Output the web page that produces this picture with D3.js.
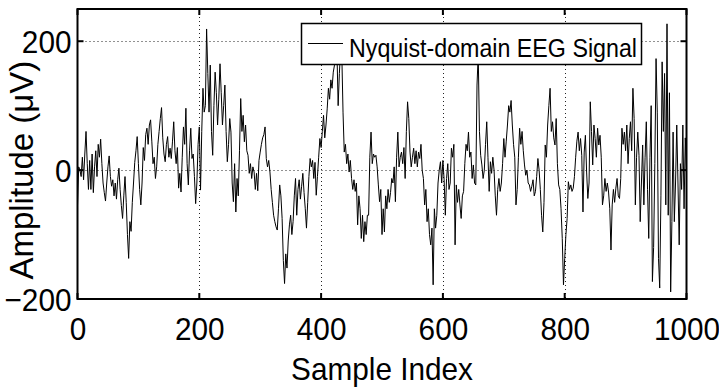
<!DOCTYPE html>
<html>
<head>
<meta charset="utf-8">
<script src="https://cdn.jsdelivr.net/npm/d3@7"></script>
<style>
  body { margin: 0; background: #fff; }
  text { font-family: "Liberation Sans", Arial, Helvetica, sans-serif; fill: #000; }
</style>
</head>
<body>
<svg id="chart" width="719" height="389"></svg>
<script>
// sample index step 2, 0..1000
const sampleIndex = d3.range(0, 1001, 2);

// amplitude in microvolts
const amplitude = [
  -55, 5, 0, -10, 20, -15, 25, 60, 10, -30, 15, -30, 25, -35, 5, 30, -10, 40, 20, 48, 10, -20, -35, -48, -20,
  5, 22, -10, -25, -15, -40, -20, -45, -15, 3, -30, -55, -75, -40, -10, -50, -100, -137, -80, -95, -50, -20, 12, 30, 52,
  10, -30, -54, -20, 35, 15, 55, 65, 40, 70, 78, 45, 10, 20, -13, 5, 40, 60, 80, 97, 50, 25, 13, 40, 52,
  20, 34, 18, 45, 75, 30, 10, 35, -28, -5, -34, 20, 67, 40, 96, 10, -23, 30, 65, 18, 25, -10, -52, -20, 40,
  67, -31, 60, 127, 90, 100, 219, 150, 90, 163, 60, 23, 100, 152, 120, 70, 110, 165, 120, 70, 100, 132, 60, 13, 40,
  80, 59, -20, -49, 10, -65, -13, -40, 30, 111, 60, 85, 44, 70, 30, 23, -5, 10, -13, 5, -3, -30, -5, -32, 15,
  28, 40, 50, 55, 67, 18, 5, 15, -3, -30, -50, -70, -80, -88, -93, -60, -23, -40, -75, -140, -176, -130, -152, -110, -85,
  -70, -100, -80, -40, -13, -70, -30, -15, -45, -25, -5, -35, -60, -90, -50, -10, 18, 5, 15, -13, 12, -39, -10, 20, 49,
  35, 60, 85, 50, 70, 95, 127, 110, 140, 127, 152, 163, 175, 185, 100, 150, 185, 180, 90, 28, 40, 10, 25, -3, 15,
  -13, -30, -15, -33, -20, -85, -40, -60, -106, -70, -111, -80, -100, -70, -70, 20, 59, 10, 25, 20, 23, 5, -23, -49, -30,
  -100, -60, -96, -40, -60, -30, -50, -35, -13, -20, 5, -49, 20, 59, 5, 20, 28, 10, 35, -13, 60, 106, 80, 28, 5,
  20, 34, 10, 30, 5, 28, 18, 40, 0, -13, -54, -30, -80, -60, -100, -116, -90, -178, -60, -90, -70, -20, 0, 13, -20,
  15, -15, -70, -13, 10, -30, -20, 34, 20, 40, -116, -23, -50, -30, -54, -75, -40, -33, 10, 40, 30, 59, 20, 28, -13,
  8, -20, -23, 132, 180, 60, 23, 8, -13, 0, 40, 75, 20, -33, 13, -5, 20, 0, -40, -70, -30, -13, -33, -20, 10,
  49, 20, 45, 70, 100, 90, 108, 70, 40, 20, -54, -30, 20, 65, 40, 60, 30, 8, -8, 0, -20, -23, -33, -25, -15,
  -40, -33, -10, 18, 0, -30, -70, -96, -50, 39, 20, 70, 100, 127, 60, 75, 50, 39, 80, 10, -23, -30, -60, -106, -178,
  -137, -100, -75, -18, -30, -23, -33, -28, -10, 20, 45, 59, 30, 49, 23, -65, 28, 54, -3, -44, -20, 106, 60, 8, 70,
  49, 20, 65, 39, 54, 20, -54, -40, -13, -33, -20, -34, -60, -124, -54, -30, -50, -28, -13, -40, -44, -13, 65, 40, 59,
  30, 70, 10, 49, 75, 30, 127, 80, -54, 20, 59, 23, -80, -20, 39, -54, 20, 75, -30, -106, 20, 100, -173, -120, 10,
  173, 90, -137, -183, -40, 168, 60, 150, -54, 227, -70, 120, -189, -80, 59, -80, -20, 70, -20, -116, 10, -30, 70, -60, 50,
  0
];

const xTicks = [0, 200, 400, 600, 800, 1000];
const yTicks = [-200, 0, 200];
const xGrid = [200, 400, 600, 800];
const yGrid = [0, 200];
const seriesName = 'Nyquist-domain EEG Signal';

(function () {
  const svg = d3.select('#chart');
  const pl = 77.5, pr = 686.5, pt = 9, pb = 299;
  const squeeze = 0.93; // text is a bit narrow in the original

  const x = d3.scaleLinear().domain([0, 1000]).range([pl, pr]);
  const y = d3.scaleLinear().domain([-200, 250]).range([pb, pt]);

  svg.append('defs').append('clipPath').attr('id', 'plot')
    .append('rect')
    .attr('x', pl).attr('y', pt)
    .attr('width', pr - pl).attr('height', pb - pt);

  // dotted grid
  const grid = svg.append('g')
    .attr('stroke', '#222')
    .attr('stroke-width', 1)
    .attr('stroke-dasharray', '1,3');
  grid.selectAll('.gx').data(xGrid).enter().append('line')
    .attr('x1', d => Math.round(x(d)) + 0.5).attr('x2', d => Math.round(x(d)) + 0.5)
    .attr('y1', pt).attr('y2', pb);
  grid.selectAll('.gy').data(yGrid).enter().append('line')
    .attr('y1', d => Math.round(y(d)) + 0.5).attr('y2', d => Math.round(y(d)) + 0.5)
    .attr('x1', pl).attr('x2', pr);

  // signal
  const line = d3.line()
    .x((d, i) => x(sampleIndex[i]))
    .y(d => y(d));

  svg.append('path')
    .datum(amplitude)
    .attr('clip-path', 'url(#plot)')
    .attr('fill', 'none')
    .attr('stroke', '#000')
    .attr('stroke-width', 1)
    .attr('d', line);

  // box
  svg.append('rect')
    .attr('x', pl).attr('y', pt)
    .attr('width', pr - pl).attr('height', pb - pt)
    .attr('fill', 'none')
    .attr('stroke', '#000')
    .attr('stroke-width', 2);

  // inward ticks on all four sides
  const ticks = svg.append('g').attr('stroke', '#000').attr('stroke-width', 2);
  xTicks.forEach(t => {
    ticks.append('line').attr('x1', x(t)).attr('x2', x(t)).attr('y1', pb).attr('y2', pb - 6);
    ticks.append('line').attr('x1', x(t)).attr('x2', x(t)).attr('y1', pt).attr('y2', pt + 6);
  });
  yTicks.forEach(t => {
    ticks.append('line').attr('y1', y(t)).attr('y2', y(t)).attr('x1', pl).attr('x2', pl + 6);
    ticks.append('line').attr('y1', y(t)).attr('y2', y(t)).attr('x1', pr).attr('x2', pr - 6);
  });

  // tick labels through d3 axes
  const xAxis = svg.append('g')
    .attr('transform', `translate(0,${pb})`)
    .call(d3.axisBottom(x).tickValues(xTicks).tickSize(0).tickFormat(d3.format('d')));
  xAxis.select('.domain').remove();
  xAxis.selectAll('text')
    .attr('font-size', 32)
    .attr('y', 41)
    .attr('dy', 0)
    .attr('transform', `scale(${squeeze},1)`);

  const yAxis = svg.append('g')
    .attr('transform', `translate(${pl},0)`)
    .call(d3.axisLeft(y).tickValues(yTicks).tickSize(0).tickFormat(d3.format('d')));
  yAxis.select('.domain').remove();
  yAxis.selectAll('text')
    .attr('font-size', 32)
    .attr('x', -6 / squeeze)
    .attr('dy', '0.35em')
    .attr('transform', `scale(${squeeze},1)`);
  svg.selectAll('.tick text').style('font-family', '"Liberation Sans", Arial, sans-serif');

  // axis titles
  svg.append('text')
    .attr('transform', `translate(${(pl + pr) / 2},380) scale(${squeeze},1)`)
    .attr('text-anchor', 'middle')
    .attr('font-size', 32)
    .text('Sample Index');

  svg.append('text')
    .attr('transform', `translate(33,${y(0)}) rotate(-90)`)
    .attr('text-anchor', 'middle')
    .attr('font-size', 33)
    .text('Amplitude (\u03bcV)');

  // legend
  const legend = svg.append('g');
  legend.append('rect')
    .attr('x', 301.5).attr('y', 23.5)
    .attr('width', 340).attr('height', 41)
    .attr('fill', '#fff')
    .attr('stroke', '#000')
    .attr('stroke-width', 1.5);
  legend.append('line')
    .attr('x1', 308).attr('x2', 343)
    .attr('y1', 43.5).attr('y2', 43.5)
    .attr('stroke', '#000').attr('stroke-width', 1);
  legend.append('text')
    .attr('transform', `translate(349,57) scale(${squeeze},1)`)
    .attr('font-size', 25)
    .text(seriesName);
})();
</script>
</body>
</html>
